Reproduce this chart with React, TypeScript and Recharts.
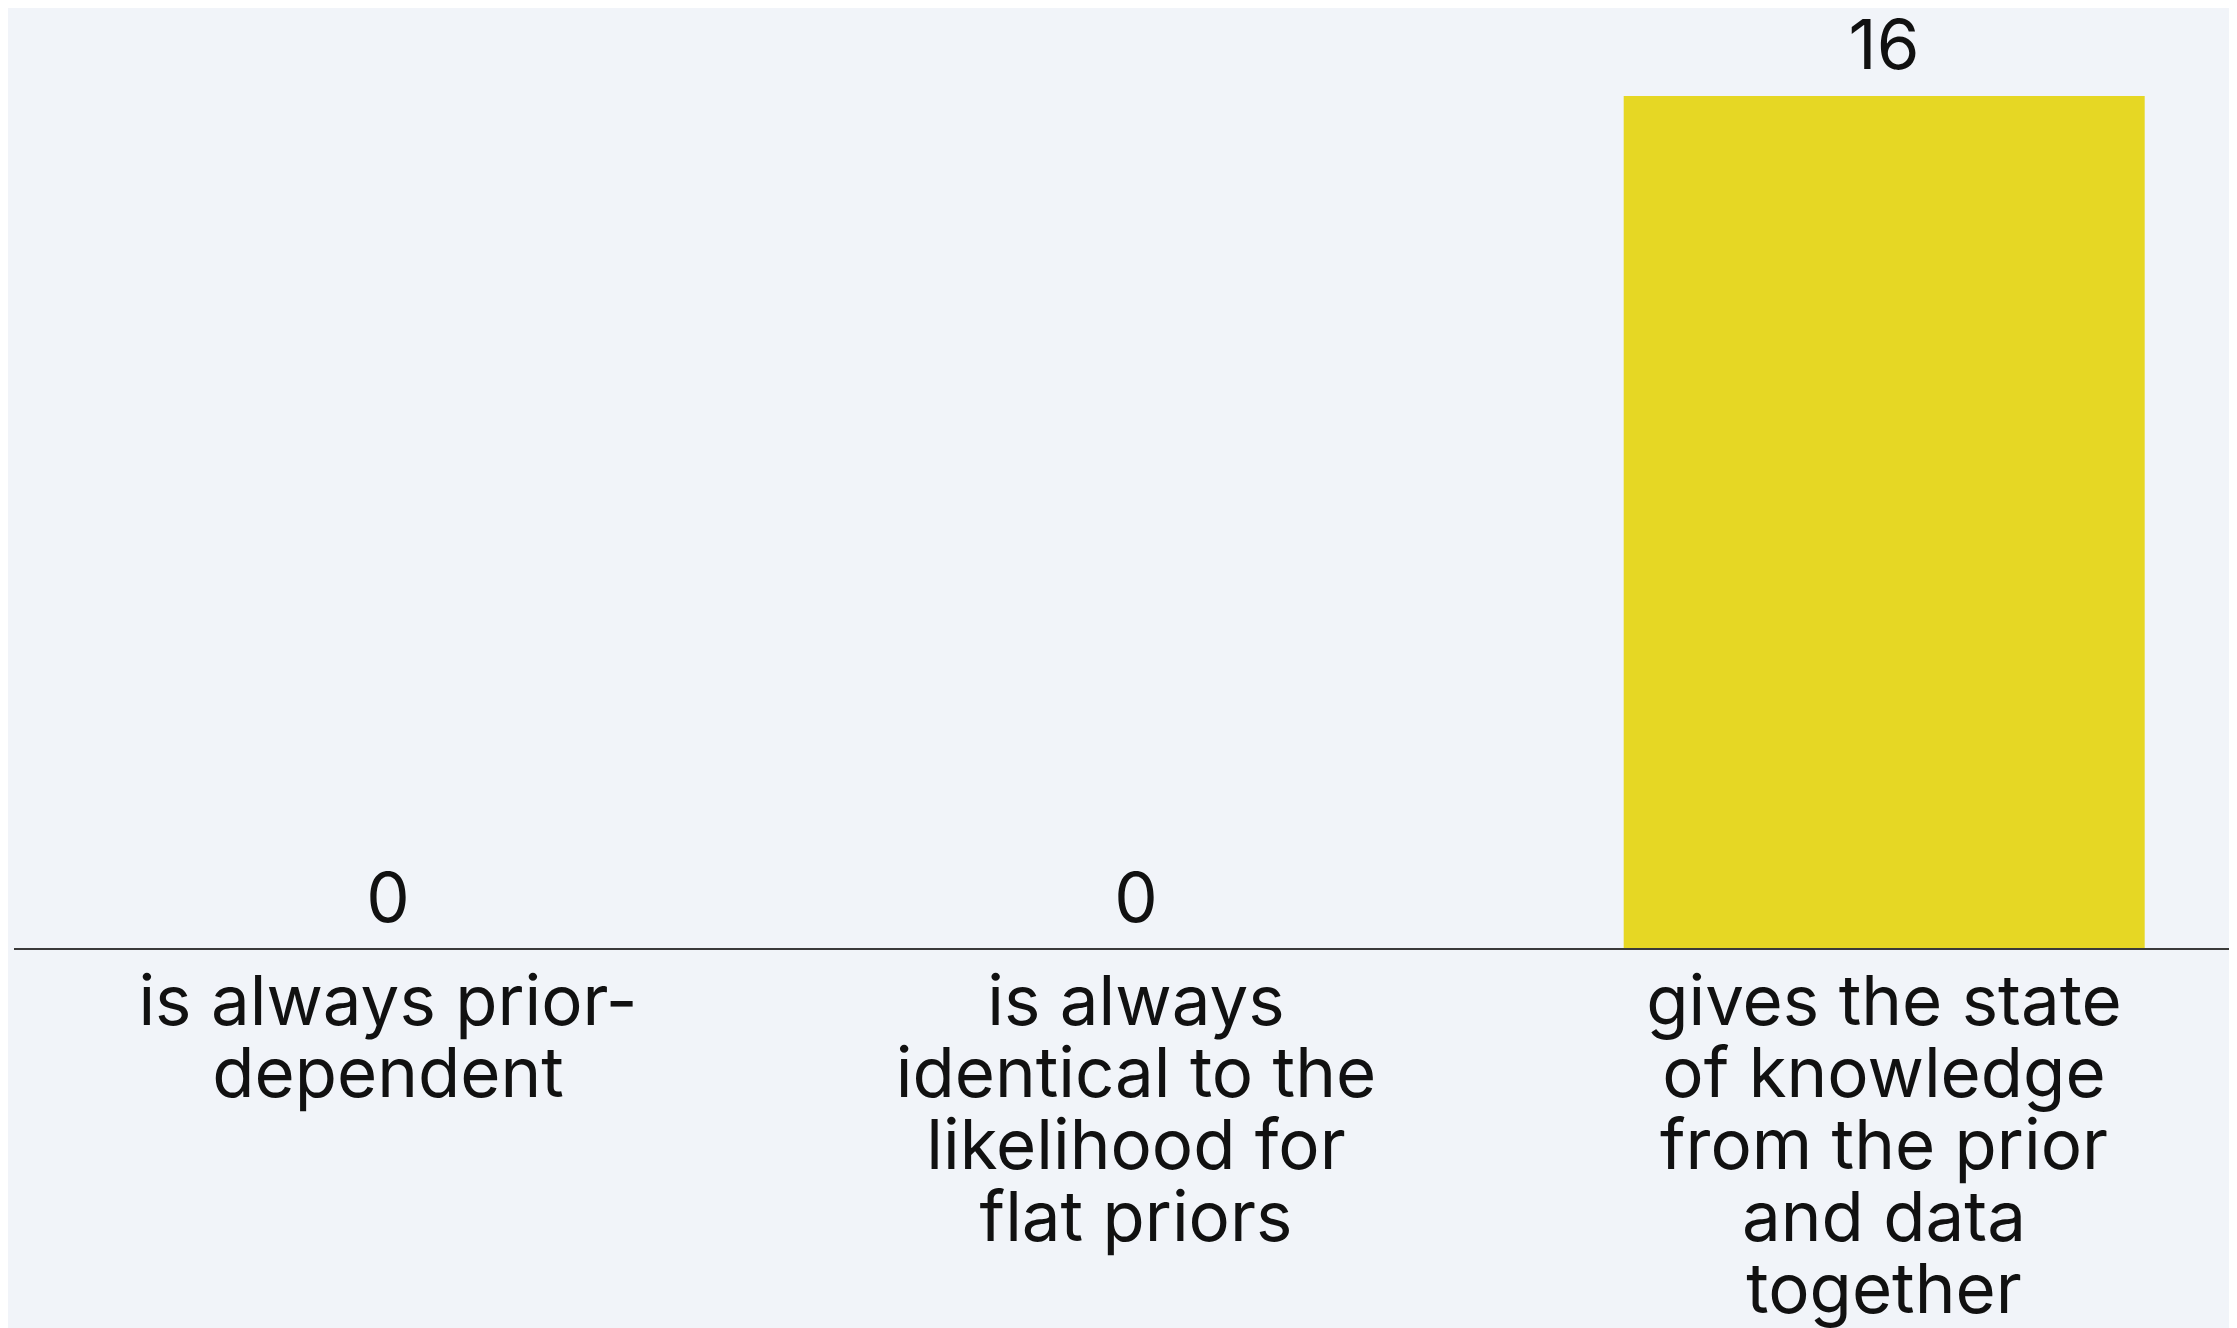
import React from "react";
import { ComposedChart, Bar, Line, XAxis, YAxis, LabelList } from "recharts";

const categories = [
  "is always prior-\ndependent",
  "is always\nidentical to the\nlikelihood for\nflat priors",
  "gives the state\nof knowledge\nfrom the prior\nand data\ntogether",
];
const counts = [0, 0, 16];

const data = categories.map((c, i) => ({ category: c, count: counts[i] }));

const FONT = "Inter, 'Noto Sans', sans-serif";
const FS = 69;
const LH = 72;

const Tick = (props: any) => {
  const { x, y, payload } = props;
  const lines = String(payload.value).split("\n");
  return (
    <text x={x} y={y} textAnchor="middle" fontFamily={FONT} fontSize={FS} fill="#111">
      {lines.map((l, i) => (
        <tspan key={i} x={x} y={y + 76 + i * LH}>
          {l}
        </tspan>
      ))}
    </text>
  );
};

const ValueLabel = (props: any) => {
  const { x, y, value } = props;
  return (
    <text x={x} y={y - 27} textAnchor="middle" fontFamily={FONT} fontSize={FS} fill="#111">
      {value}
    </text>
  );
};

export default function App() {
  return (
    <div style={{ width: 2229, height: 1320, overflow: "hidden", background: "#F1F4F9" }}>
      <ComposedChart
        width={2250}
        height={1320}
        data={data}
        margin={{ top: 88, right: 0, bottom: 0, left: 6 }}
        barCategoryGap="15.2%"
        style={{ background: "#F1F4F9" }}
      >
        <XAxis
          dataKey="category"
          tick={<Tick />}
          tickLine={false}
          tickSize={0}
          tickMargin={0}
          height={379}
          interval={0}
          axisLine={{ stroke: "#3a3a3a", strokeWidth: 2 }}
        />
        <YAxis hide domain={[0, 16]} />
        <Bar dataKey="count" fill="#E6D724" isAnimationActive={false} />
        <Line
          dataKey="count"
          stroke="none"
          dot={false}
          activeDot={false}
          isAnimationActive={false}
          label={<ValueLabel />}
        />
      </ComposedChart>
    </div>
  );
}
